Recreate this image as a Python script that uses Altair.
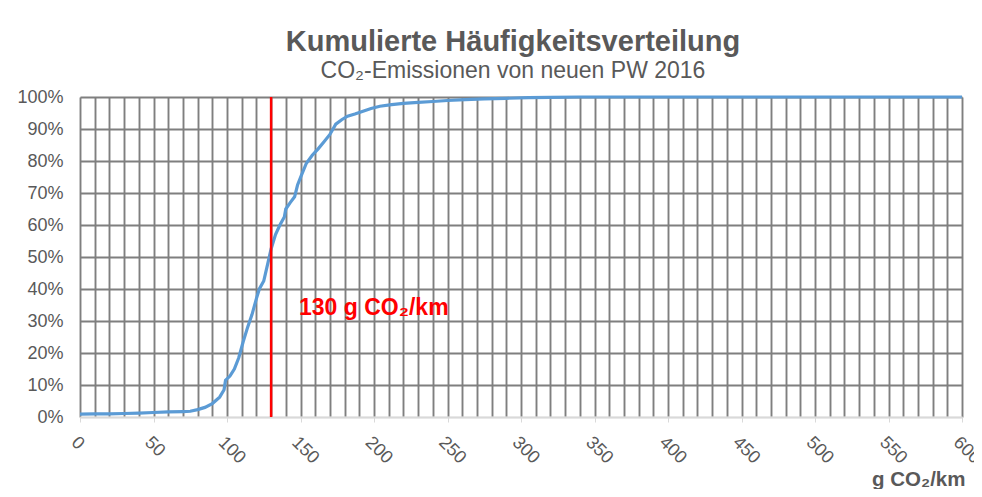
import altair as alt
import pandas as pd

# Cumulative distribution: CO2 emissions (g/km) vs cumulative share
co2_x = [0, 10, 20, 30, 40, 50, 60, 70, 75, 80, 85, 90, 95, 98, 99, 102, 105, 108,
         111, 114, 117, 120, 122, 125, 128, 130, 133, 136, 139, 140, 143, 146, 148,
         151, 154, 158, 162, 166, 170, 174, 178, 182, 187, 192, 198, 204, 212, 220,
         230, 240, 250, 262, 275, 290, 305, 320, 340, 600]
cum_pct = [0.9, 1.0, 1.0, 1.1, 1.2, 1.4, 1.6, 1.7, 1.8, 2.3, 3.0, 4.2, 6.2, 8.5, 11.5,
           12.8, 15.0, 18.5, 23.5, 28.0, 32.0, 37.0, 40.0, 42.5, 48.5, 52.5, 57.0,
           60.0, 62.5, 65.0, 67.0, 68.8, 72.5, 76.0, 79.3, 81.8, 83.8, 86.0, 88.3,
           91.5, 92.9, 94.0, 94.7, 95.5, 96.4, 97.1, 97.6, 98.0, 98.3, 98.6, 98.9,
           99.2, 99.4, 99.6, 99.8, 99.9, 100.0, 100.0]

x_ticks = list(range(0, 601, 10))
y_ticks = [i / 10 for i in range(11)]

limit_x = [130]
limit_label = ["130 g CO₂/km"]
label_x = [149]
label_y = [0.34]

df = pd.DataFrame({"x": co2_x, "y": [v / 100 for v in cum_pct]})
df_rule = pd.DataFrame({"x": limit_x, "y0": [0.0], "y1": [1.0]})
df_text = pd.DataFrame({"x": label_x, "y": label_y, "t": limit_label})

FONT = "Liberation Sans"
GREY = "#595959"
GRID = "#7f7f7f"

x_scale = alt.Scale(domain=[0, 600], nice=False, zero=False)
y_scale = alt.Scale(domain=[0, 1], nice=False)

x_axis = alt.Axis(
    values=x_ticks,
    labelExpr="datum.value % 50 === 0 ? datum.label : ''",
    labelAngle=45,
    labelAlign="left",
    labelBaseline="top",
    labelFontSize=18,
    labelFont=FONT,
    labelColor=GREY,
    labelPadding=11,
    labelOverlap=False,
    labelFlush=False,
    tickSize=5,
    tickColor="#d9d9d9",
    tickOpacity={"condition": {"test": "datum.value % 50 === 0", "value": 1}, "value": 0},
    domainColor="#d9d9d9",
    domainWidth=1.5,
    grid=True,
    gridColor=GRID,
    gridWidth=1.9,
    title="g CO₂/km",
    titleFont=FONT,
    titleFontSize=20.5,
    titleFontWeight="bold",
    titleColor=GREY,
    titleAlign="right",
    titleAnchor="end",
    titleBaseline="alphabetic",
    titleX=885,
    titleY=68,
)

y_axis = alt.Axis(
    values=y_ticks,
    format=".0%",
    labelFontSize=18,
    labelFont=FONT,
    labelColor=GREY,
    labelPadding=17,
    ticks=False,
    tickSize=0,
    domain=False,
    grid=True,
    gridColor={"condition": {"test": "datum.value === 0", "value": "#d9d9d9"}, "value": GRID},
    gridWidth=1.9,
    title=None,
)

rule = alt.Chart(df_rule).mark_rule(color="#ff0000", strokeWidth=2.5).encode(
    x=alt.X("x:Q", scale=x_scale, axis=x_axis),
    y=alt.Y("y0:Q", scale=y_scale, axis=y_axis),
    y2="y1:Q",
)

line = alt.Chart(df).mark_line(color="#5b9bd5", strokeWidth=3.2).encode(
    x=alt.X("x:Q", scale=x_scale, axis=x_axis),
    y=alt.Y("y:Q", scale=y_scale, axis=y_axis),
)

text = alt.Chart(df_text).mark_text(
    color="#ff0000", font=FONT, fontSize=23, fontWeight="bold",
    align="left", baseline="middle"
).encode(
    x=alt.X("x:Q", scale=x_scale, axis=x_axis),
    y=alt.Y("y:Q", scale=y_scale, axis=y_axis),
    text="t:N",
)

chart = alt.layer(line, rule, text).properties(
    width=882,
    height=320,
    title=alt.TitleParams(
        text="Kumulierte Häufigkeitsverteilung",
        subtitle="CO₂-Emissionen von neuen PW 2016",
        font=FONT,
        subtitleFont=FONT,
        fontSize=29,
        subtitleFontSize=23,
        fontWeight="bold",
        color=GREY,
        subtitleColor=GREY,
        anchor="middle",
        frame="group",
        dx=-8,
        offset=5,
        subtitlePadding=3,
    ),
    autosize=alt.AutoSizeParams(type="none"),
    padding={"left": 72, "top": 89, "right": 12, "bottom": 72},
).configure_view(stroke=None).configure(background="white")

chart.save("out.html", embed_options={"renderer": "svg", "actions": False})
